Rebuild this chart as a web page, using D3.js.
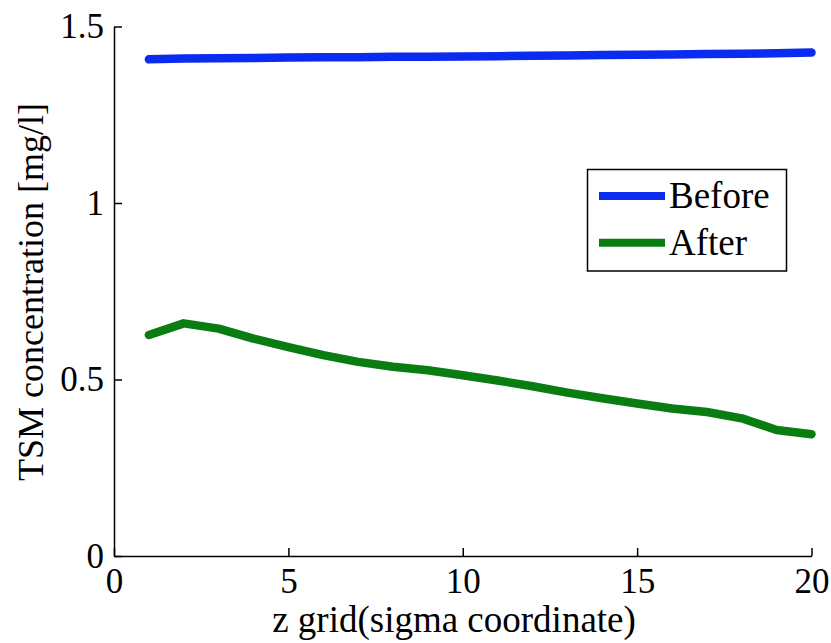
<!DOCTYPE html>
<html><head><meta charset="utf-8">
<script src="https://cdn.jsdelivr.net/npm/d3@7"></script>
<style>body{margin:0;background:#fff;} svg{display:block;}</style>
</head><body>
<script>
const zGrid = [1,2,3,4,5,6,7,8,9,10,11,12,13,14,15,16,17,18,19,20];
const before = [1.407,1.409,1.410,1.411,1.412,1.413,1.413,1.414,1.414,1.415,1.416,1.417,1.418,1.419,1.420,1.421,1.422,1.423,1.424,1.426];
const after = [0.626,0.659,0.644,0.616,0.592,0.569,0.550,0.536,0.526,0.512,0.497,0.481,0.463,0.447,0.432,0.418,0.408,0.390,0.357,0.345];
const xTicks = [0,5,10,15,20];
const yTicks = [0,0.5,1,1.5];
const seriesNames = ["Before","After"];
const seriesColors = ["#0a2cf0","#0a7d12"];

const W=831,H=643;
const svg=d3.select("body").append("svg").attr("width",W).attr("height",H);
const x=d3.scaleLinear().domain([0,20]).range([114,811.5]);
const y=d3.scaleLinear().domain([0,1.5]).range([556,26.5]);
const font="'Liberation Serif','Times New Roman',serif";

const xAxis=svg.append("g").attr("transform","translate(0,556)")
  .call(d3.axisBottom(x).tickValues(xTicks).tickFormat(d3.format("d")).tickSizeInner(-8).tickSizeOuter(0).tickPadding(12));
const yAxis=svg.append("g").attr("transform","translate(114,0)")
  .call(d3.axisLeft(y).tickValues(yTicks).tickFormat(d=>String(d)).tickSizeInner(-8).tickSizeOuter(0).tickPadding(10));
[xAxis,yAxis].forEach(g=>{
  g.select(".domain").attr("stroke","#000").attr("stroke-width",1.5);
  g.selectAll(".tick line").attr("stroke","#000").attr("stroke-width",1.5);
  g.selectAll("text").attr("font-family",font).attr("font-size",35).attr("fill","#000");
});

const line=d3.line().x((d,i)=>x(zGrid[i])).y(d=>y(d));
[before,after].forEach((s,k)=>{
  svg.append("path").datum(s).attr("d",line).attr("fill","none")
    .attr("stroke",seriesColors[k]).attr("stroke-width",8.5).attr("stroke-linejoin","round").attr("stroke-linecap","round");
});

// legend
const lg=svg.append("g");
lg.append("rect").attr("x",587.5).attr("y",169.5).attr("width",199).attr("height",101.5)
  .attr("fill","#fff").attr("stroke","#000").attr("stroke-width",1.5);
seriesNames.forEach((n,k)=>{
  const yy=196+k*46.7;
  lg.append("line").attr("x1",599).attr("x2",665).attr("y1",yy).attr("y2",yy)
    .attr("stroke",seriesColors[k]).attr("stroke-width",8);
  lg.append("text").attr("x",669).attr("y",yy+12).text(n)
    .attr("font-family",font).attr("font-size",37).attr("fill","#000");
});

svg.append("text").attr("x",454).attr("y",632).attr("text-anchor","middle")
  .attr("font-family",font).attr("font-size",37).text("z grid(sigma coordinate)");
svg.append("text").attr("transform","translate(43,292) rotate(-90)").attr("text-anchor","middle")
  .attr("font-family",font).attr("font-size",36).text("TSM concentration [mg/l]");
</script>
</body></html>
